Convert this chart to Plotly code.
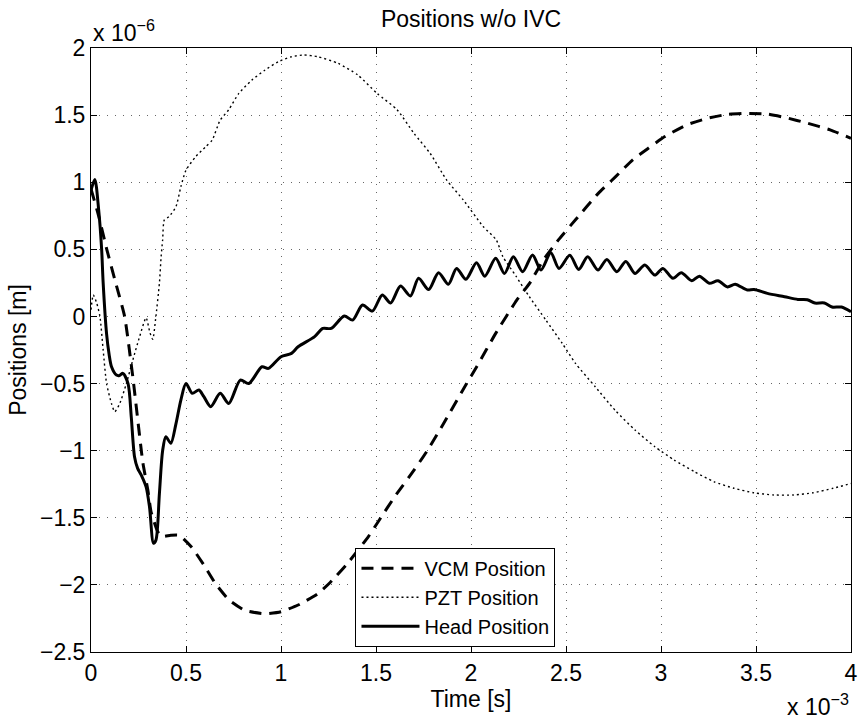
import plotly.graph_objects as go

# time in units of 1e-3 s, positions in units of 1e-6 m
vcm_t = [0.0, 0.04, 0.083, 0.13, 0.177, 0.22, 0.273, 0.30, 0.316, 0.35, 0.37, 0.42, 0.464,
         0.53, 0.60, 0.655, 0.725, 0.81, 0.916, 1.0, 1.09, 1.19, 1.26, 1.35, 1.46, 1.525,
         1.60, 1.70, 1.77, 1.855, 1.977, 2.03, 2.13, 2.24, 2.31, 2.38, 2.46, 2.55, 2.67,
         2.76, 2.85, 2.93, 3.02, 3.14, 3.245, 3.35, 3.45, 3.56, 3.66, 3.77, 3.89, 4.0]
vcm_y = [0.95, 0.75, 0.50, 0.25, 0.0, -0.45, -1.09, -1.30, -1.455, -1.60, -1.64, -1.63, -1.63,
         -1.72, -1.865, -1.99, -2.11, -2.19, -2.215, -2.20, -2.15, -2.07, -1.98, -1.84, -1.64, -1.50,
         -1.34, -1.145, -1.0, -0.80, -0.50, -0.375, -0.126, 0.12, 0.25, 0.42, 0.57, 0.72, 0.917,
         1.04, 1.165, 1.25, 1.34, 1.43, 1.476, 1.506, 1.513, 1.508, 1.48, 1.44, 1.39, 1.327]

pzt_t = [0.0, 0.012, 0.03, 0.047, 0.064, 0.082, 0.108, 0.125, 0.151, 0.186, 0.22, 0.256, 0.29,
         0.31, 0.325, 0.34, 0.36, 0.369, 0.377, 0.386, 0.41, 0.447, 0.473, 0.50, 0.551, 0.603,
         0.638, 0.68, 0.725, 0.777, 0.846, 0.916, 0.986, 1.055, 1.12, 1.194, 1.30, 1.403, 1.507,
         1.611, 1.70, 1.785, 1.872, 1.96, 2.064, 2.133, 2.168, 2.237, 2.307, 2.394, 2.48, 2.55,
         2.654, 2.759, 2.863, 2.967, 3.07, 3.176, 3.28, 3.384, 3.489, 3.593, 3.697, 3.80, 3.906, 4.0]
pzt_y = [0.05, 0.16, 0.10, 0.0, -0.25, -0.50, -0.65, -0.71, -0.65, -0.50, -0.325, -0.15, -0.01,
         -0.12, -0.17, -0.02, 0.247, 0.445, 0.57, 0.72, 0.743, 0.817, 0.967, 1.09, 1.19, 1.264,
         1.315, 1.463, 1.54, 1.66, 1.76, 1.836, 1.898, 1.935, 1.948, 1.935, 1.886, 1.80, 1.66,
         1.54, 1.364, 1.215, 1.016, 0.867, 0.67, 0.57, 0.445, 0.30, 0.147, -0.027, -0.20, -0.35,
         -0.524, -0.70, -0.846, -0.97, -1.07, -1.157, -1.232, -1.28, -1.314, -1.33, -1.33, -1.314, -1.28, -1.245]

head_t = [0.0, 0.02, 0.04, 0.056, 0.064, 0.082, 0.095, 0.108, 0.134, 0.150, 0.168, 0.195, 0.212,
          0.229, 0.245, 0.264, 0.29, 0.308, 0.329, 0.342, 0.36, 0.377, 0.394, 0.42, 0.447, 0.473,
          0.50, 0.533, 0.568, 0.594, 0.63, 0.68, 0.725, 0.786, 0.83, 0.90, 0.934, 1.0, 1.055,
          1.09, 1.177, 1.22, 1.264, 1.333, 1.377, 1.429, 1.481, 1.533, 1.577, 1.629, 1.681,
          1.724, 1.777, 1.829, 1.881, 1.924, 1.973, 2.029, 2.072, 2.13, 2.176, 2.223, 2.272,
          2.324, 2.368, 2.42, 2.463, 2.52, 2.567, 2.614, 2.668, 2.715, 2.767, 2.815, 2.863,
          2.915, 2.967, 3.01, 3.063, 3.107, 3.162, 3.202, 3.254, 3.30, 3.35, 3.39, 3.454, 3.49,
          3.56, 3.65, 3.72, 3.77, 3.81, 3.86, 3.90, 3.95, 4.0]
head_y = [0.94, 1.02, 0.80, 0.50, 0.25, -0.13, -0.28, -0.375, -0.437, -0.44, -0.424, -0.50, -0.75,
          -1.045, -1.13, -1.18, -1.27, -1.42, -1.69, -1.665, -1.32, -1.0, -0.896, -0.945, -0.80, -0.623,
          -0.50, -0.573, -0.548, -0.598, -0.672, -0.573, -0.648, -0.474, -0.50, -0.375, -0.387, -0.30, -0.275,
          -0.226, -0.15, -0.089, -0.089, 0.003, -0.027, 0.085, 0.04, 0.16, 0.10, 0.226, 0.152,
          0.284, 0.20, 0.326, 0.24, 0.358, 0.277, 0.40, 0.30, 0.433, 0.32, 0.445, 0.333,
          0.458, 0.346, 0.475, 0.358, 0.455, 0.35, 0.445, 0.346, 0.425, 0.333, 0.41, 0.32,
          0.383, 0.308, 0.358, 0.284, 0.326, 0.266, 0.30, 0.247, 0.266, 0.22, 0.24, 0.197, 0.20,
          0.172, 0.147, 0.127, 0.125, 0.10, 0.10, 0.07, 0.07, 0.035]

x_ticks = [0, 0.5, 1, 1.5, 2, 2.5, 3, 3.5, 4]
y_ticks = [-2.5, -2, -1.5, -1, -0.5, 0, 0.5, 1, 1.5, 2]

FONT = "Liberation Sans, Arial, Helvetica, sans-serif"
FS = 23

fig = go.Figure()
fig.add_trace(go.Scatter(x=vcm_t, y=vcm_y, mode="lines", name="VCM Position",
                         line=dict(color="black", width=3, dash="12px,8px", shape="spline", smoothing=0.5)))
fig.add_trace(go.Scatter(x=pzt_t, y=pzt_y, mode="lines", name="PZT Position",
                         line=dict(color="black", width=1.4, dash="2px,3px", shape="spline", smoothing=0.6)))
fig.add_trace(go.Scatter(x=head_t, y=head_y, mode="lines", name="Head Position",
                         line=dict(color="black", width=3, shape="spline", smoothing=0.8)))

axis_common = dict(showline=True, linecolor="black", linewidth=1, mirror="ticks",
                   ticks="inside", ticklen=6, tickwidth=1, tickcolor="black",
                   showgrid=True, gridcolor="rgba(0,0,0,0.6)", gridwidth=1, griddash="1px,7px",
                   zeroline=False, tickfont=dict(family=FONT, size=FS, color="black"))

fig.update_xaxes(range=[0, 4], tickvals=x_ticks,
                 title=dict(text="Time [s]", font=dict(family=FONT, size=FS, color="black"), standoff=0),
                 **axis_common)
fig.update_yaxes(range=[-2.5, 2], tickvals=y_ticks,
                 title=dict(text="Positions [m]", font=dict(family=FONT, size=FS, color="black"), standoff=6),
                 **axis_common)

fig.update_layout(
    width=865, height=723, autosize=False,
    margin=dict(l=91, r=7, t=48, b=71),
    paper_bgcolor="white", plot_bgcolor="white",
    font=dict(family=FONT, size=FS, color="black"),
    title=dict(text="Positions w/o IVC", x=0.5, xref="paper", xanchor="center",
               y=1 - 19 / 723, yref="container", yanchor="middle",
               font=dict(family=FONT, size=FS, color="black")),
    legend=dict(x=0.348, y=0.1727, xanchor="left", yanchor="top",
                bgcolor="white", bordercolor="black", borderwidth=1, itemwidth=58,
                font=dict(family=FONT, size=20, color="black"), tracegroupgap=0),
    annotations=[
        dict(text="x 10<sup>−6</sup>", xref="paper", yref="paper", x=0, y=1,
             xanchor="left", yanchor="bottom", showarrow=False, yshift=0,
             font=dict(family=FONT, size=FS, color="black")),
        dict(text="x 10<sup>−3</sup>", xref="paper", yref="paper", x=1, y=0,
             xanchor="right", yanchor="top", showarrow=False, yshift=-36,
             font=dict(family=FONT, size=FS, color="black")),
    ],
)

fig.write_html("out.html")
